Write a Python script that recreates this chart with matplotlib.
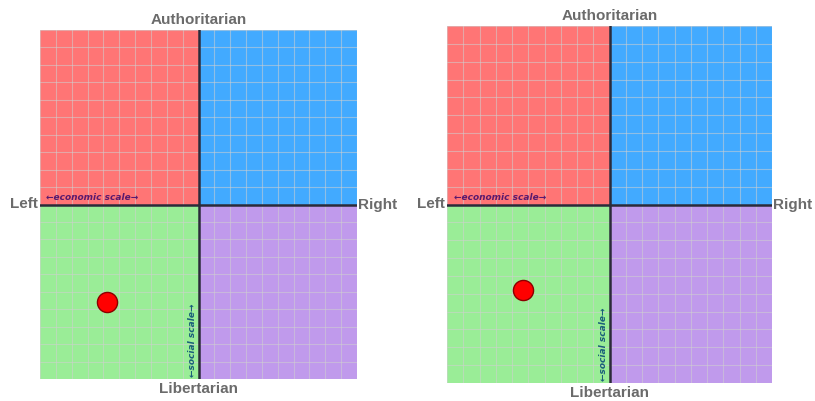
import matplotlib
matplotlib.use("Agg")
import matplotlib.pyplot as plt
from matplotlib.patches import Rectangle

# ---- data -------------------------------------------------------------------
QUADRANTS = ["auth_left", "auth_right", "lib_left", "lib_right"]
QUAD_X = [-10, 0, -10, 0]          # lower-left corner, economic axis
QUAD_Y = [0, 0, -10, -10]          # lower-left corner, social axis
QUAD_COLORS = ["#ff7575", "#42aaff", "#9aed97", "#c09aec"]

ECON = [-5.8, -5.3]                # economic score, left / right chart
SOCIAL = [-5.6, -4.8]              # social score, left / right chart

# axes placement in figure fractions (815x401 px canvas)
PANELS = [(40 / 815, 22 / 401, 317 / 815, 349 / 401),
          (447 / 815, 18 / 401, 325 / 815, 357 / 401)]

LABEL_COLOR = "#6b6b6b"

fig = plt.figure(figsize=(8.15, 4.01), dpi=100)

for i, rect in enumerate(PANELS):
    ax = fig.add_axes(rect)
    for qx, qy, c in zip(QUAD_X, QUAD_Y, QUAD_COLORS):
        ax.add_patch(Rectangle((qx, qy), 10, 10, color=c, lw=0, zorder=0))
    ax.set_xlim(-10, 10)
    ax.set_ylim(-10, 10)
    ax.set_xticks(range(-10, 11))
    ax.set_yticks(range(-10, 11))
    ax.grid(True, color="#d0d0d0", lw=0.8, alpha=0.55, zorder=1)
    ax.tick_params(length=0, labelbottom=False, labelleft=False)
    for s in ax.spines.values():
        s.set_visible(False)
    ax.axhline(0, color="#2b2b3a", lw=1.8, zorder=3)
    ax.axvline(0, color="#2b2b3a", lw=1.8, zorder=3)

    ax.scatter([ECON[i]], [SOCIAL[i]], s=210, color="#ff0000",
               edgecolor="#8b0000", lw=1.0, zorder=5)

    kw = dict(transform=ax.transAxes, color=LABEL_COLOR, fontsize=11,
              fontweight="bold", family="Liberation Sans", clip_on=False)
    ax.text(0.5, 1.008, "Authoritarian", ha="center", va="bottom", **kw)
    ax.text(0.5, -0.008, "Libertarian", ha="center", va="top", **kw)
    ax.text(-0.008, 0.5, "Left", ha="right", va="center", **kw)
    ax.text(1.003, 0.5, "Right", ha="left", va="center", **kw)

    ax.text(-9.6, 0.12, "\u2190economic scale\u2192", ha="left", va="bottom",
            fontsize=6.5, style="italic", fontweight="bold",
            color="#5a1a6e", zorder=4)
    ax.text(-0.12, -9.9, "\u2190social scale\u2192", ha="right", va="bottom",
            rotation=90, fontsize=6.5, style="italic", fontweight="bold",
            color="#1a5f7a", zorder=4)

fig.savefig("out.png", dpi=100, facecolor="white")
